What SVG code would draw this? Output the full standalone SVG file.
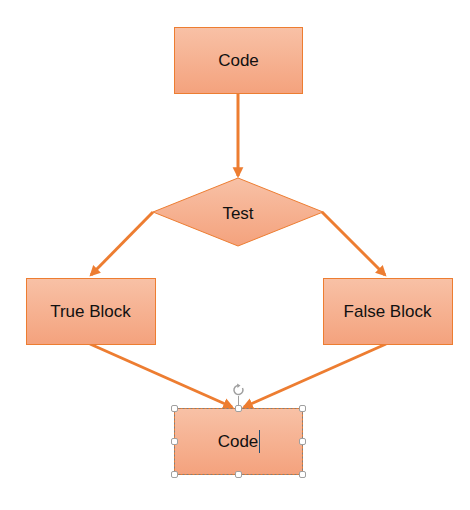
<svg xmlns="http://www.w3.org/2000/svg" width="470" height="510" viewBox="0 0 470 510">
<style>
.shape{fill:url(#g);stroke:#ed7d31;stroke-width:1}
.lbl{font-family:"Liberation Sans","Open Sans",sans-serif;font-size:17px;fill:#111;text-anchor:middle;dominant-baseline:central}
.conn{stroke:#ed7d31;stroke-width:3;fill:none;marker-end:url(#ah)}
.hdl{fill:#fff;stroke:#a0a0a0;stroke-width:1}
</style>
<defs>
<linearGradient id="g" x1="0" y1="0" x2="0" y2="1">
<stop offset="0" stop-color="#f8c1a6"/>
<stop offset="1" stop-color="#f4a27d"/>
</linearGradient>
<marker id="ah" viewBox="0 0 10 10" refX="8" refY="5" markerWidth="3.6" markerHeight="3.8" orient="auto" markerUnits="strokeWidth">
<path d="M0,0 L10,5 L0,10 z" fill="#ed7d31"/>
</marker>
</defs>
<rect width="470" height="510" fill="#fff"/>
<g id="connectors">
<line class="conn" x1="238" y1="93" x2="238" y2="176"/>
<line class="conn" x1="153" y1="212" x2="91" y2="275"/>
<line class="conn" x1="322" y1="212" x2="385" y2="275"/>
<line class="conn" x1="90" y1="344" x2="232" y2="407"/>
<line class="conn" x1="386" y1="344" x2="244" y2="407"/>
</g>
<g id="code-top">
<rect class="shape" x="174.5" y="27.5" width="128" height="66"/>
<text class="lbl" x="238.5" y="60.5">Code</text>
</g>
<g id="test">
<polygon class="shape" points="238,178 323,212 238,246 153,212"/>
<text class="lbl" x="238" y="213">Test</text>
</g>
<g id="true-block">
<rect class="shape" x="26.5" y="278.5" width="129" height="66"/>
<text class="lbl" x="90.5" y="311">True Block</text>
</g>
<g id="false-block">
<rect class="shape" x="323.5" y="278.5" width="129" height="66"/>
<text class="lbl" x="387.5" y="311">False Block</text>
</g>
<g id="code-bottom">
<rect class="shape" x="174.5" y="408.5" width="128" height="66"/>
<rect x="174.5" y="408.5" width="128" height="66" fill="none" stroke="#808080" stroke-width="1" stroke-dasharray="2,2"/>
<text class="lbl" x="238" y="441">Code</text>
<line x1="259.5" y1="430" x2="259.5" y2="453" stroke="#1f4e79" stroke-width="1"/>
<line x1="238.5" y1="396" x2="238.5" y2="408" stroke="#a0a0a0" stroke-width="1"/>
<path d="M242.5,388 A4.5,4.5 0 1 1 238.5,385.5" fill="none" stroke="#a0a0a0" stroke-width="1.5"/>
<path d="M237,383.5 L240.5,385.5 L237.5,388 z" fill="#a0a0a0"/>
<rect class="hdl" x="171.5" y="405.5" width="6" height="6" rx="1.5"/>
<rect class="hdl" x="235.5" y="405.5" width="6" height="6" rx="1.5"/>
<rect class="hdl" x="299.5" y="405.5" width="6" height="6" rx="1.5"/>
<rect class="hdl" x="171.5" y="438.5" width="6" height="6" rx="1.5"/>
<rect class="hdl" x="299.5" y="438.5" width="6" height="6" rx="1.5"/>
<rect class="hdl" x="171.5" y="471.5" width="6" height="6" rx="1.5"/>
<rect class="hdl" x="235.5" y="471.5" width="6" height="6" rx="1.5"/>
<rect class="hdl" x="299.5" y="471.5" width="6" height="6" rx="1.5"/>
</g>
</svg>
